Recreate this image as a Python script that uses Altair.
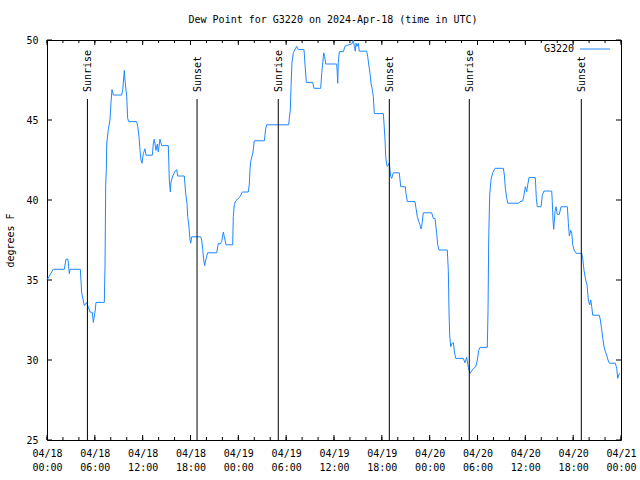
import altair as alt
import pandas as pd

# ---- data (hours since 2024-04-18 00:00 UTC, deg F) ----
hours = [0.0, 0.79, 2.17, 2.38, 2.63, 2.80, 2.89, 4.18, 4.35, 4.68, 4.98, 5.18, 5.39, 5.68, 5.81, 6.02, 6.15,
         7.19, 7.28, 7.36, 7.44, 7.49, 7.69, 7.90, 8.03, 8.15, 8.32, 9.37, 9.50, 9.70, 9.78, 10.0, 10.12, 10.25,
         11.25, 11.38, 11.54, 11.67, 11.79, 11.92, 12.08, 12.29, 12.42, 13.21, 13.33, 13.46, 13.67, 13.84, 13.96,
         14.17, 14.39, 15.22, 15.34, 15.47, 15.55, 15.77, 16.06, 16.27, 16.39, 17.22, 17.40, 17.56, 17.65, 17.81,
         17.94, 18.03, 18.15, 19.28, 19.41, 19.53, 19.66, 19.78, 19.91, 20.16, 21.29, 21.49, 21.70, 21.91, 22.12,
         22.24, 22.33, 22.45, 23.29, 23.37, 23.50, 23.67, 24.21, 24.50, 25.25, 25.38, 25.46, 25.55, 25.84, 26.00,
         27.26, 27.43, 27.56, 30.32, 30.39, 30.52, 30.61, 30.73, 30.90, 31.15, 31.32, 31.52, 32.24, 32.36, 32.53,
         33.33, 33.49, 34.33, 34.46, 34.71, 34.83, 34.96, 36.34, 36.41, 36.47, 36.54, 36.67, 37.17, 37.38, 37.79,
         38.22, 38.42, 38.55, 38.67, 38.76, 38.88, 39.05, 39.17, 40.10, 40.23, 40.35, 40.52, 40.64, 40.81, 40.93,
         41.06, 42.19, 42.27, 42.40, 42.49, 42.61, 42.69, 42.94, 43.11, 43.24, 43.44, 44.19, 44.37, 44.95, 45.03,
         45.20, 46.16, 46.29, 46.45, 46.63, 46.79, 46.91, 47.00, 47.20, 48.25, 48.46, 48.67, 48.88, 49.01, 49.17,
         50.21, 50.34, 50.43, 50.51, 50.64, 50.80, 50.97, 51.14, 51.27, 52.22, 52.43, 52.64, 52.85, 53.06, 53.28,
         53.48, 53.78, 53.98, 54.15, 54.32, 55.23, 55.32, 55.41, 55.53, 55.70, 55.91, 56.20, 57.24, 57.37, 57.49,
         57.67, 57.80, 59.17, 59.34, 59.67, 59.83, 60.00, 60.17, 60.30, 60.46, 61.25, 61.38, 61.50, 61.97, 62.13,
         62.34, 63.31, 63.38, 63.47, 63.56, 63.63, 63.72, 63.85, 64.01, 64.26, 64.48, 65.27, 65.40, 65.52, 65.70,
         65.83, 65.95, 66.11, 66.36, 67.07, 67.20, 67.36, 67.57, 67.74, 67.90, 68.08, 68.20, 68.33, 68.45, 69.28,
         69.41, 69.58, 69.71, 69.87, 70.04, 70.21, 70.37, 70.54, 71.29, 71.46, 71.59, 71.71, 71.84]
dewpt = [35.0, 35.67, 35.67, 36.3, 36.3, 35.4, 35.67, 35.67, 34.2, 33.4, 33.6, 33.3, 33.0, 32.98, 32.35, 33.0, 33.6,
         33.6, 36.0, 40.9, 41.9, 43.5, 44.4, 45.0, 46.1, 46.9, 46.56, 46.56, 46.9, 48.1, 47.5, 46.46, 45.1, 44.9,
         44.9, 44.6, 43.96, 43.1, 42.5, 42.3, 42.9, 43.2, 42.8, 42.8, 43.5, 43.8, 43.1, 43.5, 43.0,
         43.8, 43.4, 43.4, 41.25, 40.5, 41.1, 41.5, 41.8, 41.9, 41.5, 41.5, 40.4, 39.8, 38.96, 38.3,
         37.5, 37.3, 37.7, 37.7, 37.5, 36.9, 36.25, 35.9, 36.25, 36.7, 36.7, 37.3, 37.25, 37.4, 38.0,
         37.7, 37.5, 37.2, 37.2, 38.96, 39.7, 39.94, 40.2, 40.5, 40.5, 41.0, 41.9, 42.4, 43.0, 43.7,
         43.7, 44.45, 44.7, 44.7, 45.1, 45.6, 47.1, 48.6, 49.2, 49.44, 49.6, 49.4, 49.4, 48.5, 47.35,
         47.35, 46.98, 46.98, 47.9, 49.2, 48.96, 48.5, 48.5, 47.9, 47.3, 48.6, 49.27, 49.27, 49.6, 49.7,
         49.75, 50.0, 49.6, 49.3, 49.8, 49.6, 49.8, 49.3, 49.3, 48.96, 48.5, 47.9, 47.3, 46.9, 46.46,
         45.4, 45.4, 44.8, 43.75, 42.7, 42.2, 42.1, 42.3, 41.5, 41.35, 41.7, 41.7, 40.83, 40.83, 40.4,
         39.9, 39.9, 39.48, 38.96, 38.65, 38.44, 38.19, 38.33, 39.2, 39.2, 38.85, 38.85, 37.9, 37.2, 36.875,
         36.875, 35.6, 33.0, 31.56, 30.83, 31.04, 31.08, 30.42, 30.1, 30.1, 29.83, 30.17, 29.54, 29.17, 29.33,
         29.46, 29.58, 30.0, 30.6, 30.79, 30.79, 33.1, 37.7, 40.3, 41.3, 41.7, 41.98, 41.98, 41.56, 40.73,
         40.1, 39.8, 39.8, 39.9, 39.94, 40.3, 40.83, 40.52, 40.94, 41.4, 41.4, 40.1, 39.58, 39.58, 40.3,
         40.56, 40.56, 39.9, 38.75, 38.17, 38.6, 39.27, 39.58, 39.1, 39.1, 39.58, 39.58, 38.54, 37.75, 38.1,
         37.9, 37.2, 36.875, 36.67, 36.67, 36.35, 35.6, 35.0, 34.7, 33.75, 33.44, 33.75, 33.33, 32.8, 32.8,
         32.5, 31.9, 31.35, 30.83, 30.52, 30.3, 30.0, 29.8, 29.8, 29.48, 28.85, 29.06, 29.17]

event_hours = [5.07, 18.82, 29.01, 42.94, 52.97, 67.02]
event_labels = ["Sunrise", "Sunset", "Sunrise", "Sunset", "Sunrise", "Sunset"]

y_ticks = [25, 30, 35, 40, 45, 50]
x_major_hours = list(range(0, 73, 6))
x_minor_hours = list(range(0, 73, 2))

series_name = "G3220"
title_text = "Dew Point for G3220 on 2024-Apr-18 (time in UTC)"
y_title = "degrees F"

T0 = pd.Timestamp("2024-04-18T00:00:00Z")


def ms(h):
    return int((T0 + pd.Timedelta(hours=h)).value // 10**6)


FONT = "DejaVu Sans Mono"
LINE_COLOR = "#1e88ff"
W, H = 574, 400

df = pd.DataFrame({"t": [ms(h) for h in hours], "v": dewpt})
ev = pd.DataFrame({"t": [ms(h) for h in event_hours], "label": event_labels})
xmaj = pd.DataFrame({"t": [ms(h) for h in x_major_hours]})
xmin = pd.DataFrame({"t": [ms(h) for h in x_minor_hours]})
ytk = pd.DataFrame({"v": y_ticks})

xscale = alt.Scale(type="utc", domain=[ms(0), ms(72)])
yscale = alt.Scale(domain=[25, 50], nice=False, zero=False)

x_axis = alt.Axis(
    values=[ms(h) for h in x_major_hours],
    labelExpr="[utcFormat(datum.value, '%m/%d'), utcFormat(datum.value, '%H:%M')]",
    ticks=False, domain=False, grid=False, title=None,
    labelFont=FONT, labelFontSize=10, labelColor="black",
    labelPadding=8, labelLineHeight=14, labelFlush=False, labelOverlap=False,
)
y_axis = alt.Axis(
    values=y_ticks, ticks=False, domain=False, grid=False,
    title=y_title, titleFont=FONT, titleFontSize=10, titleFontWeight="normal",
    titleColor="black", titlePadding=10,
    labelFont=FONT, labelFontSize=10, labelColor="black", labelPadding=9,
)

X = alt.X("t:T", scale=xscale, axis=x_axis)
Y = alt.Y("v:Q", scale=yscale, axis=y_axis)

line = alt.Chart(df).mark_line(color=LINE_COLOR, strokeWidth=1, interpolate="linear").encode(x=X, y=Y)

ev_rule = alt.Chart(ev).mark_rule(color="black", strokeWidth=1).encode(
    x=X, y=alt.value(59), y2=alt.value(H),
)
ev_text = alt.Chart(ev).mark_text(
    angle=270, align="left", baseline="middle", font=FONT, fontSize=10, color="black", dy=1
).encode(x=X, y=alt.value(52), text="label:N")

tick_layers = []
for d, length in ((xmaj, 5), (xmin, 3)):
    tick_layers.append(alt.Chart(d).mark_rule(color="black").encode(
        x=X, y=alt.value(H), y2=alt.value(H - length)))
    tick_layers.append(alt.Chart(d).mark_rule(color="black").encode(
        x=X, y=alt.value(0), y2=alt.value(length)))
tick_layers.append(alt.Chart(ytk).mark_rule(color="black").encode(
    y=Y, x=alt.value(0), x2=alt.value(5)))
tick_layers.append(alt.Chart(ytk).mark_rule(color="black").encode(
    y=Y, x=alt.value(W), x2=alt.value(W - 5)))

leg_df = pd.DataFrame({"name": [series_name]})
leg_text = alt.Chart(leg_df).mark_text(
    align="right", baseline="middle", font=FONT, fontSize=10, color="black"
).encode(x=alt.value(527), y=alt.value(9), text="name:N")
leg_line = alt.Chart(leg_df).mark_rule(color=LINE_COLOR, strokeWidth=1).encode(
    x=alt.value(533), x2=alt.value(563), y=alt.value(9))

title_df = pd.DataFrame({"title": [title_text]})
title_mark = alt.Chart(title_df).mark_text(
    align="center", baseline="middle", font=FONT, fontSize=10, color="black"
).encode(x=alt.value(286), y=alt.value(-20), text="title:N")

chart = alt.layer(
    line, ev_rule, ev_text, *tick_layers, leg_text, leg_line, title_mark
).properties(
    width=W, height=H,
    autosize=alt.AutoSizeParams(type="none"),
    padding={"left": 47, "top": 40, "right": 19, "bottom": 40},
    background="white",
).configure_view(stroke="black", strokeWidth=1)

chart.save("out.html", embed_options={"renderer": "svg", "actions": False})
